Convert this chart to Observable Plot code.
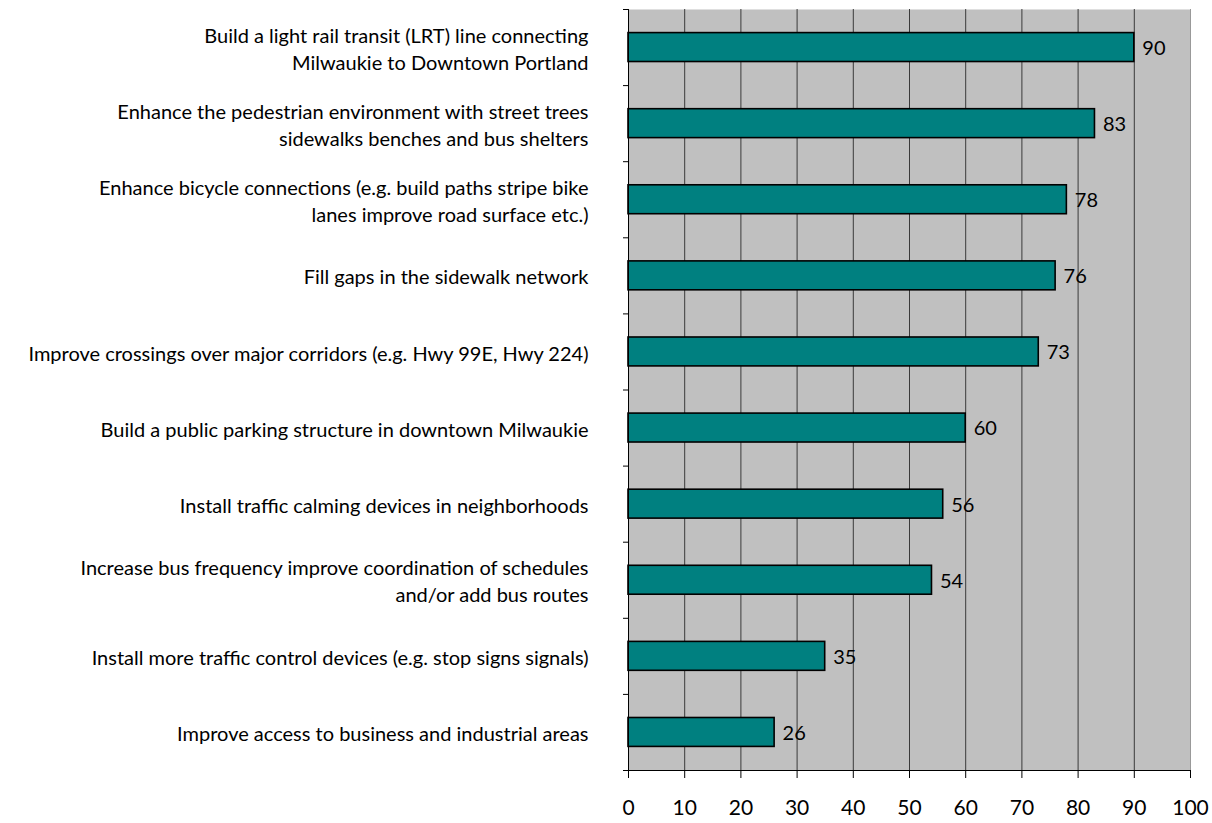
<!DOCTYPE html>
<html>
<head>
<meta charset="utf-8">
<script src="https://cdn.jsdelivr.net/npm/d3@7"></script>
<script src="https://cdn.jsdelivr.net/npm/@observablehq/plot@0.6"></script>
<style>
  html, body { margin: 0; padding: 0; background: #fff; }
  #chart svg { display: block; }
</style>
</head>
<body>
<div id="chart"></div>
<script>
const categories = [
  "Build a light rail transit (LRT) line connecting\nMilwaukie to Downtown Portland",
  "Enhance the pedestrian environment with street trees\nsidewalks benches and bus shelters",
  "Enhance bicycle connections (e.g. build paths stripe bike\nlanes improve road surface etc.)",
  "Fill gaps in the sidewalk network",
  "Improve crossings over major corridors (e.g. Hwy 99E, Hwy 224)",
  "Build a public parking structure in downtown Milwaukie",
  "Install traffic calming devices in neighborhoods",
  "Increase bus frequency improve coordination of schedules\nand/or add bus routes",
  "Install more traffic control devices (e.g. stop signs signals)",
  "Improve access to business and industrial areas"
];
const values = [90, 83, 78, 76, 73, 60, 56, 54, 35, 26];
const xTicks = [0, 10, 20, 30, 40, 50, 60, 70, 80, 90, 100];
const gridTicks = [10, 20, 30, 40, 50, 60, 70, 80, 90];

const n = categories.length;
const half = 0.19;
const data = categories.map((c, i) => ({label: c, value: values[i], i, y1: i - half, y2: i + half}));
const boundaries = d3.range(n + 1).map(k => k - 0.5);

const font = "Lato, 'Open Sans', sans-serif";

const chart = Plot.plot({
  width: 1212,
  height: 823,
  marginLeft: 628,
  marginRight: 22,
  marginTop: 9,
  marginBottom: 53,
  style: {fontFamily: font, background: "#fff", color: "#000"},
  x: {domain: [0, 100], axis: null},
  y: {domain: [-0.5, n - 0.5], reverse: true, axis: null},
  marks: [
    Plot.frame({fill: "#c0c0c0", stroke: null}),
    Plot.ruleX([100], {stroke: "#999", strokeWidth: 1}),
    Plot.ruleX(gridTicks, {stroke: "#3a3a3a", strokeWidth: 1}),
    Plot.rectX(data, {x1: 0, x2: "value", y1: "y1", y2: "y2", fill: "#008080", stroke: "#000", strokeWidth: 1.6}),
    Plot.text(data, {x: "value", y: "i", text: d => String(d.value), textAnchor: "start", dx: 8, dy: 1, fontSize: 20, fill: "#000"}),
    Plot.text(data, {x: 0, y: "i", text: "label", textAnchor: "end", dx: -40, fontSize: 20, lineHeight: 1.35, fill: "#000"}),
    Plot.ruleX([0], {stroke: "#000", strokeWidth: 1}),
    Plot.ruleY([n - 0.5], {stroke: "#000", strokeWidth: 1}),
    Plot.axisY({ticks: boundaries, tickSize: 5, tickFormat: () => "", label: null}),
    Plot.axisX({ticks: xTicks, tickSize: 8, tickPadding: 22, fontSize: 21, label: null, tickFormat: d => String(d)})
  ]
});
document.getElementById("chart").appendChild(chart);
</script>
</body>
</html>
